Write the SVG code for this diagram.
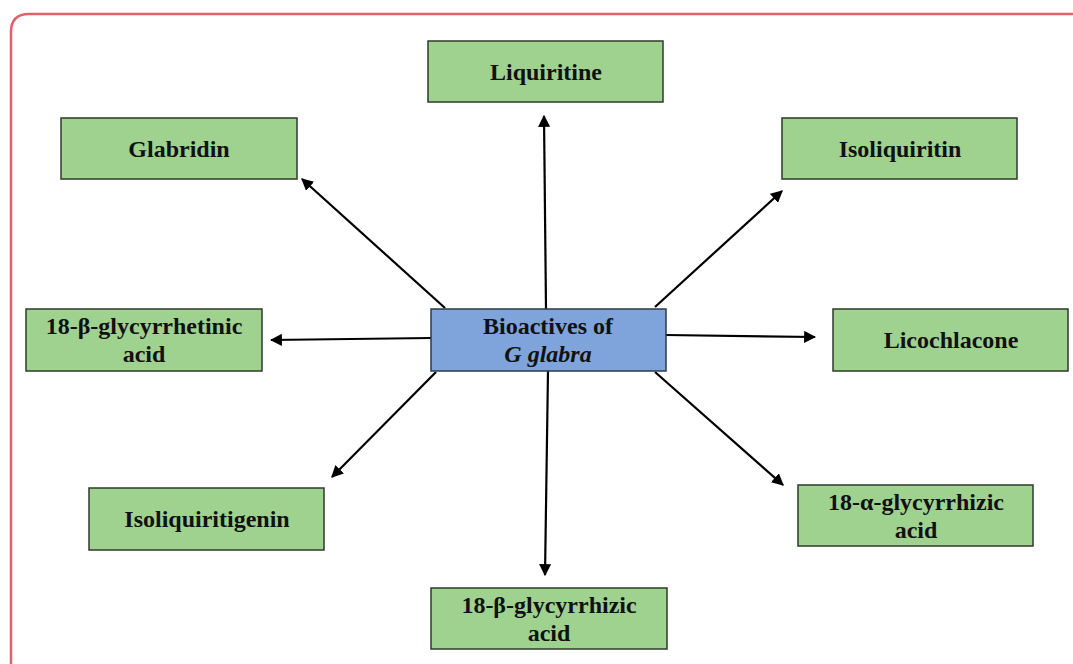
<svg xmlns="http://www.w3.org/2000/svg" width="1073" height="664" viewBox="0 0 1073 664">
<style>
.box{fill:#9fd18f;stroke:#2f3a2c;stroke-width:1.5}
.ctr{fill:#7fa3db;stroke:#2f3a4c;stroke-width:1.5}
.t{font-family:"Liberation Serif","Times New Roman",serif;font-weight:bold;font-size:24px;fill:#111;text-anchor:middle}
.c line{stroke:#000;stroke-width:2.2;marker-end:url(#ah)}
</style>
<defs>
<marker id="ah" viewBox="0 0 10 10" refX="9" refY="5" markerWidth="5.5" markerHeight="5.5" orient="auto" markerUnits="strokeWidth">
<path d="M0,0 L10,5 L0,10 z" fill="#000"/>
</marker>
</defs>
<rect width="1073" height="664" fill="#fff"/>
<path d="M11,664 L11,32 Q11,14 29,14 L1073,14" fill="none" stroke="#e0616a" stroke-width="2.5"/>
<g class="c">
<line x1="546" y1="309" x2="544" y2="116"/>
<line x1="445" y1="308" x2="302" y2="179"/>
<line x1="655" y1="307" x2="782" y2="191"/>
<line x1="431" y1="338" x2="271" y2="340"/>
<line x1="666" y1="335" x2="815" y2="337"/>
<line x1="436" y1="372" x2="332" y2="477"/>
<line x1="548" y1="371" x2="545" y2="575"/>
<line x1="655" y1="372" x2="783" y2="485"/>
</g>
<g id="center"><rect class="ctr" x="431" y="309" width="235" height="62"/><text class="t" x="548" y="334">Bioactives of</text><text class="t" x="548" y="362" font-style="italic">G glabra</text></g>
<g id="liquiritine"><rect class="box" x="428" y="41" width="235" height="61"/><text class="t" x="546" y="80">Liquiritine</text></g>
<g id="glabridin"><rect class="box" x="61" y="118" width="236" height="61"/><text class="t" x="179" y="157">Glabridin</text></g>
<g id="isoliquiritin"><rect class="box" x="782" y="118" width="235" height="61"/><text class="t" x="900" y="157">Isoliquiritin</text></g>
<g id="glycyrrhetinic"><rect class="box" x="26" y="309" width="236" height="62"/><text class="t" x="144" y="334">18-β-glycyrrhetinic</text><text class="t" x="144" y="362">acid</text></g>
<g id="licochlacone"><rect class="box" x="833" y="309" width="235" height="62"/><text class="t" x="951" y="348">Licochlacone</text></g>
<g id="isoliquiritigenin"><rect class="box" x="89" y="488" width="235" height="62"/><text class="t" x="207" y="527">Isoliquiritigenin</text></g>
<g id="alpha"><rect class="box" x="798" y="485" width="235" height="61"/><text class="t" x="916" y="510">18-α-glycyrrhizic</text><text class="t" x="916" y="538">acid</text></g>
<g id="beta"><rect class="box" x="431" y="588" width="236" height="61"/><text class="t" x="549" y="613">18-β-glycyrrhizic</text><text class="t" x="549" y="641">acid</text></g>
</svg>
